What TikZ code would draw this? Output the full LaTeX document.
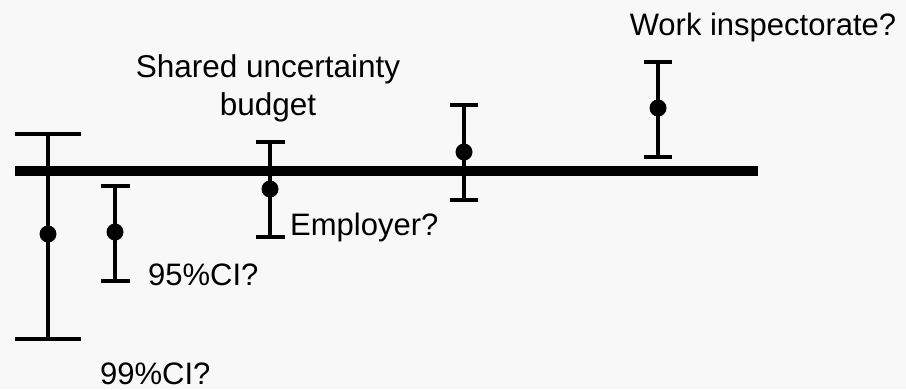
\documentclass[tikz,border=0pt]{standalone}
\usepackage{fontspec}
\setmainfont{Liberation Sans}
\usetikzlibrary{positioning}
\definecolor{PaperGrey}{RGB}{248,248,248}
\tikzset{every node/.style={font=\fontsize{31}{38}\selectfont, inner sep=0pt}, errstem/.style={line width=4pt}, errdot/.style={circle, fill=black, minimum size=17pt, inner sep=0pt}}

\begin{document}
\begin{tikzpicture}[x=1pt, y=-1pt]
    \fill[PaperGrey] (0,0) rectangle (906,389);
    \useasboundingbox (0,0) rectangle (906,389);
    % reference line
    \coordinate (axisL) at (15,171);
    \coordinate (axisR) at (758,171);
    \draw[line width=10pt] (axisL) -- (axisR);
    % error bars: name/x/top/mid/bottom/half cap
    \foreach \name/\x/\yt/\ym/\yb/\hc in {ciA/48/134/234/339/33, ciB/115/186/232/281/14.5, shared/270/142/189/237/14.5, barD/464/105/152/200/14, barE/658/62/108/157/14} {
        \coordinate (\name-top) at (\x,\yt);
        \coordinate (\name-bot) at (\x,\yb);
        \draw[errstem] (\name-top) -- (\name-bot);
        \draw[errstem] ([xshift=-\hc pt]\name-top) -- ([xshift=\hc pt]\name-top);
        \draw[errstem] ([xshift=-\hc pt]\name-bot) -- ([xshift=\hc pt]\name-bot);
        \node[errdot] (\name-dot) at (\x,\ym) {};
    }
    % labels
    \node[anchor=base] (inspect) at (763,35) {Work inspectorate?};
    \node[anchor=base, align=center, font=\fontsize{31.5}{38}\selectfont] (budget) at (268,115) {Shared uncertainty\\budget};
    \node[anchor=base west] (employer) at ([xshift=20pt]shared-bot |- 0,235) {Employer?};
    \node[anchor=base west] (ci95) at (148,285) {95\%CI?};
    \node[anchor=base west, text depth=0pt] (ci99) at (100,384) {99\%CI?};
\end{tikzpicture}
\end{document}
